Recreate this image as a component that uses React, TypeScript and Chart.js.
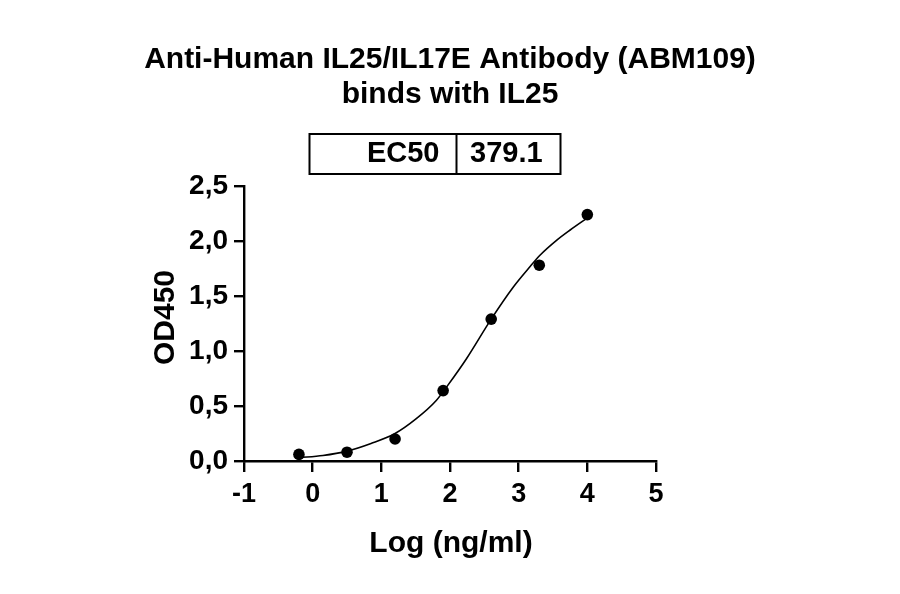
import React, { useEffect, useRef } from 'react';
import { Chart, registerables } from 'chart.js';

Chart.register(...registerables);

// Measured points: log concentration (ng/ml) vs OD450
const logConc = [-0.2, 0.5, 1.2, 1.9, 2.6, 3.3, 4.0];
const od450 = [0.06, 0.08, 0.2, 0.64, 1.29, 1.78, 2.24];

// Fitted curve
const fitX = [-0.2, 0.15, 0.5, 0.85, 1.2, 1.5, 1.8, 1.97, 2.24, 2.6, 2.92, 3.17, 3.31, 3.56, 3.75, 4.0];
const fitY = [0.03, 0.05, 0.09, 0.16, 0.25, 0.38, 0.55, 0.69, 0.93, 1.29, 1.58, 1.77, 1.87, 2.01, 2.1, 2.21];

const titleLines = ['Anti-Human IL25/IL17E Antibody (ABM109)', 'binds with IL25'];
const ec50Label = 'EC50';
const ec50Value = '379.1';
const xTitle = 'Log (ng/ml)';
const yTitle = 'OD450';

const FONT = "'Liberation Sans', Arial, sans-serif";

const annotations = {
  id: 'annotations',
  afterDraw(chart: Chart) {
    const ctx = chart.ctx;
    ctx.save();
    ctx.fillStyle = '#000';
    ctx.strokeStyle = '#000';

    // title
    ctx.font = `bold 30px ${FONT}`;
    ctx.textAlign = 'center';
    ctx.textBaseline = 'alphabetic';
    ctx.fillText(titleLines[0], 450, 68);
    ctx.fillText(titleLines[1], 450, 103);

    // EC50 box
    ctx.lineWidth = 2;
    ctx.strokeRect(309.5, 134, 251, 40);
    ctx.beginPath();
    ctx.moveTo(456.5, 134);
    ctx.lineTo(456.5, 174);
    ctx.stroke();
    ctx.font = `bold 29px ${FONT}`;
    ctx.textAlign = 'right';
    ctx.fillText(ec50Label, 439.5, 162);
    ctx.textAlign = 'left';
    ctx.fillText(ec50Value, 470, 162);

    // axis titles
    ctx.font = `bold 30px ${FONT}`;
    ctx.textAlign = 'center';
    ctx.fillText(xTitle, 451, 551.5);
    ctx.translate(173.5, 317.5);
    ctx.rotate(-Math.PI / 2);
    ctx.fillText(yTitle, 0, 0);
    ctx.restore();
  },
};

function BindingChart() {
  const chartRef = useRef<HTMLCanvasElement>(null);
  const chartInstance = useRef<Chart | null>(null);

  useEffect(() => {
    if (!chartRef.current) return;
    const ctx = chartRef.current.getContext('2d');
    if (!ctx) return;

    chartInstance.current = new Chart(ctx, {
      type: 'scatter',
      data: {
        datasets: [
          {
            label: 'fit',
            data: fitX.map((x, i) => ({ x, y: fitY[i] })),
            showLine: true,
            borderColor: '#000',
            borderWidth: 1.6,
            pointRadius: 0,
            cubicInterpolationMode: 'monotone',
            clip: false,
          },
          {
            label: 'OD450',
            data: logConc.map((x, i) => ({ x, y: od450[i] })),
            backgroundColor: '#000',
            borderWidth: 0,
            pointRadius: 5.8,
            clip: false,
          },
        ],
      },
      options: {
        animation: false,
        responsive: true,
        maintainAspectRatio: false,
        layout: { padding: { top: 186, right: 244, bottom: 0, left: 0 } },
        plugins: {
          legend: { display: false },
          title: { display: false },
          tooltip: { enabled: false },
        },
        scales: {
          x: {
            type: 'linear',
            min: -1,
            max: 5,
            afterFit: (scale: any) => {
              scale.height = 133;
            },
            ticks: {
              stepSize: 1,
              color: '#000',
              padding: 6,
              font: { family: FONT, size: 27, weight: 'bold' },
            },
            grid: {
              drawOnChartArea: false,
              drawTicks: true,
              tickLength: 11,
              lineWidth: 2.4,
              color: '#000',
            },
            border: { display: true, width: 2.4, color: '#000' },
          },
          y: {
            type: 'linear',
            min: 0,
            max: 2.5,
            afterFit: (scale: any) => {
              scale.width = 244;
            },
            ticks: {
              stepSize: 0.5,
              color: '#000',
              padding: 6,
              font: { family: FONT, size: 28, weight: 'bold' },
              callback: (v: any) => Number(v).toFixed(1).replace('.', ','),
            },
            grid: {
              drawOnChartArea: false,
              drawTicks: true,
              tickLength: 10,
              lineWidth: 2.4,
              color: '#000',
            },
            border: { display: true, width: 2.4, color: '#000' },
          },
        },
      },
      plugins: [annotations],
    });

    return () => {
      if (chartInstance.current) {
        chartInstance.current.destroy();
        chartInstance.current = null;
      }
    };
  }, []);

  return (
    <div style={{ position: 'fixed', left: 0, top: 0, width: 900, height: 594, background: '#fff' }}>
      <canvas ref={chartRef}></canvas>
    </div>
  );
}

export default function App() {
  return <BindingChart />;
}
